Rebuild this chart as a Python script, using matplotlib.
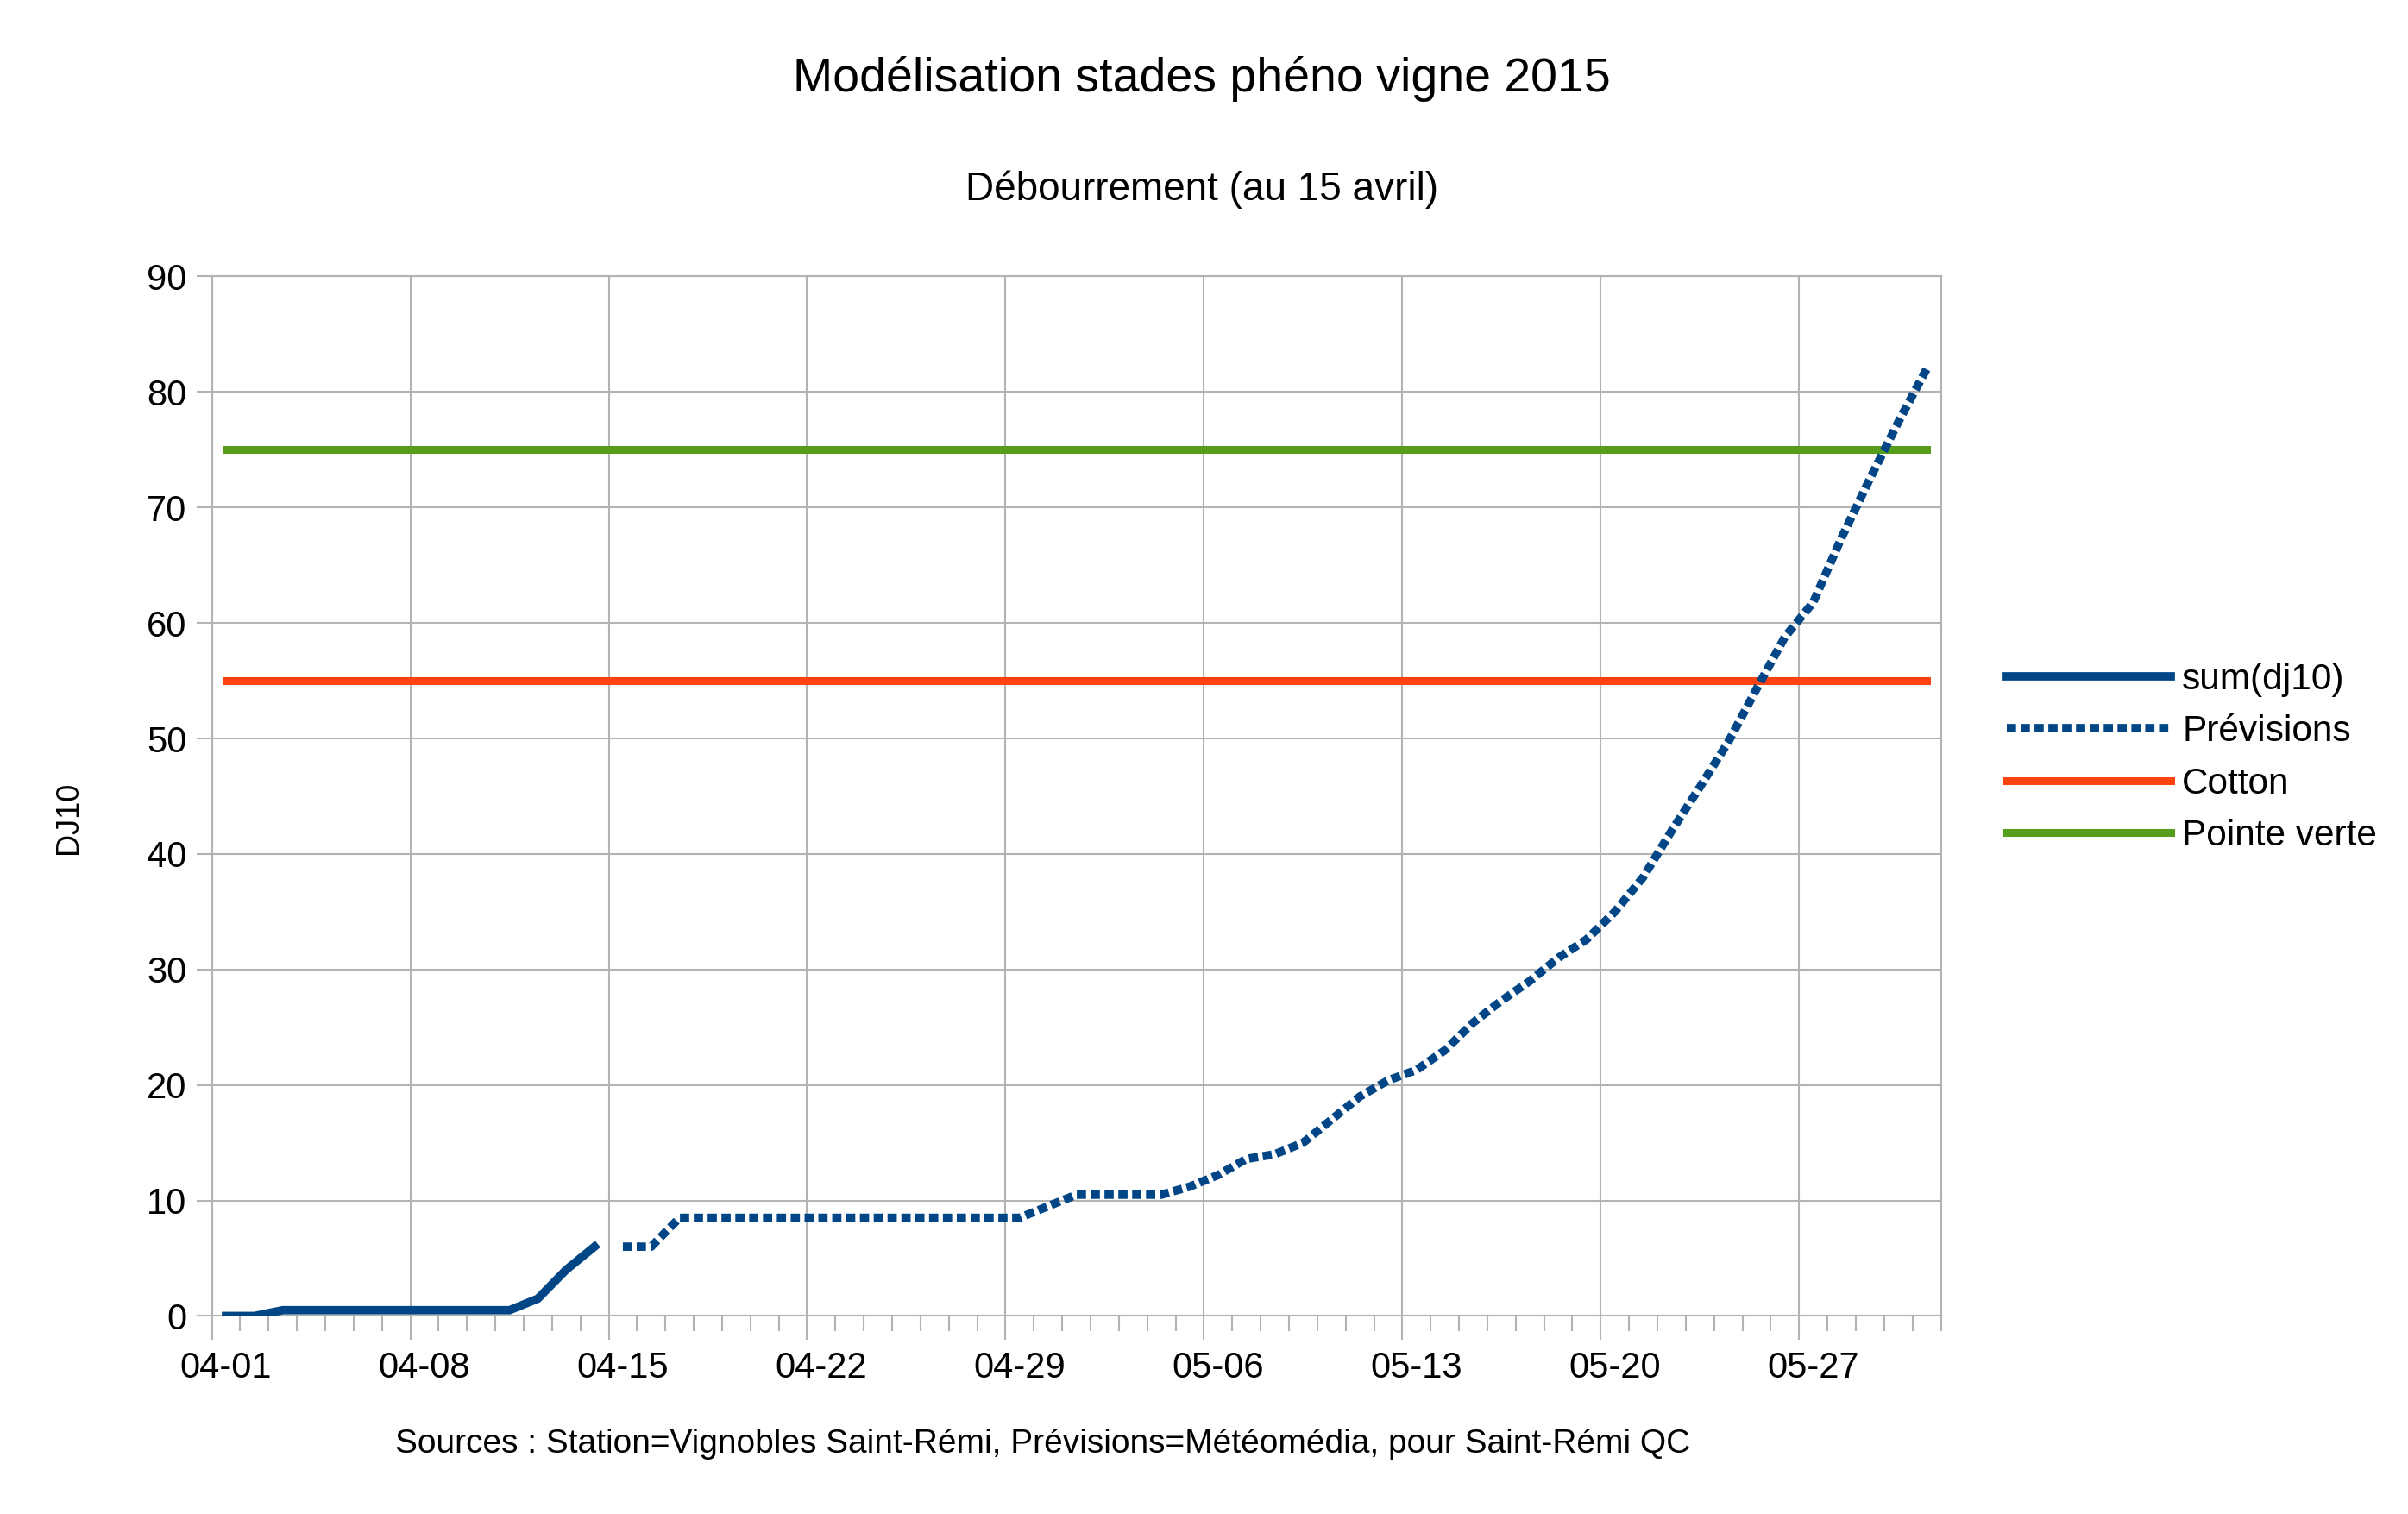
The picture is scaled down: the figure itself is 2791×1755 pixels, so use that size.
import numpy as np
import matplotlib.pyplot as plt

# day labels (every 7 days, starting 1 April 2015)
week_labels = ["04-01", "04-08", "04-15", "04-22", "04-29", "05-06", "05-13", "05-20", "05-27"]
n_days = 61  # 04-01 .. 05-31

# observed cumulative degree-days, 04-01 .. 04-14
sum_dj10 = [0, 0, 0.5, 0.5, 0.5, 0.5, 0.5, 0.5, 0.5, 0.5, 0.5, 1.5, 4, 6]

# forecast, 04-15 .. 05-31
previsions = [6, 6,
              8.5, 8.5, 8.5, 8.5, 8.5, 8.5, 8.5, 8.5, 8.5, 8.5, 8.5, 8.5, 8.5,
              9.5, 10.5, 10.5, 10.5, 10.5, 11.2, 12.2, 13.6, 14, 15, 17, 19,
              20.4, 21.3, 23, 25.4, 27.3, 29, 31, 32.6, 35, 38, 42, 45.8,
              49.7, 54.3, 58.8, 61.8, 67.4, 72.5, 77.4, 82]

cotton = 55
pointe_verte = 75

blue = "#004586"
red = "#ff420e"
green = "#579d1c"
grey = "#b3b3b3"

plt.rcParams['font.family'] = ['Liberation Sans', 'DejaVu Sans']

fig = plt.figure(figsize=(27.91, 17.55), dpi=100)
ax = fig.add_axes([0.088, 0.1308, 0.718, 0.6866])

centers = np.arange(n_days) + 0.5
x_obs = centers[:len(sum_dj10)]
x_prev = centers[len(sum_dj10):len(sum_dj10) + len(previsions)]

ax.plot(x_obs, sum_dj10, color=blue, lw=7, solid_joinstyle='miter', label="sum(dj10)", zorder=4)
ax.plot(x_prev, previsions, color=blue, lw=7, linestyle=(0, (1.1, 0.55)),
        dash_capstyle='butt', label="Prévisions", zorder=4)
ax.plot(centers, np.full(n_days, cotton), color=red, lw=6.5, label="Cotton", zorder=3)
ax.plot(centers, np.full(n_days, pointe_verte), color=green, lw=6.5, label="Pointe verte", zorder=3)

ax.set_xlim(0, n_days)
ax.set_ylim(0, 90)
ax.set_yticks(np.arange(0, 91, 10))
ax.tick_params(axis='y', labelsize=30, length=13, color=grey, width=1.5, pad=8)

week_bounds = np.arange(0, n_days, 7)
ax.set_xticks(week_bounds, [""] * len(week_bounds))
ax.set_xticks(np.arange(0, n_days + 1), minor=True)
ax.tick_params(axis='x', which='major', length=20, color=grey, width=1.5)
ax.tick_params(axis='x', which='minor', length=13, color=grey, width=1.5)

sec = ax.secondary_xaxis('bottom')
sec.set_xticks(week_bounds + 0.5, week_labels)
sec.tick_params(length=0, labelsize=30, pad=29)
sec.spines['bottom'].set_visible(False)

ax.grid(True, which='major', color=grey, lw=1.5)
ax.set_axisbelow(True)
for s in ax.spines.values():
    s.set_color(grey)
    s.set_linewidth(1.5)

ax.set_ylabel("DJ10", fontsize=26, labelpad=52)
ax.yaxis.set_label_coords(-0.074, 0.479)

ax.legend(loc='center left', bbox_to_anchor=(1.019, 0.537), frameon=False, fontsize=30.5,
          handlelength=4.5, handletextpad=0.3, labelspacing=0.48)

fig.text(0.499, 0.948, "Modélisation stades phéno vigne 2015", ha='center', va='center', fontsize=40)
fig.text(0.499, 0.875, "Débourrement (au 15 avril)", ha='center', va='center', fontsize=33)
fig.text(0.433, 0.046, "Sources : Station=Vignobles Saint-Rémi, Prévisions=Météomédia, pour Saint-Rémi QC",
         ha='center', va='center', fontsize=28)

fig.savefig("out.png", dpi=100)
